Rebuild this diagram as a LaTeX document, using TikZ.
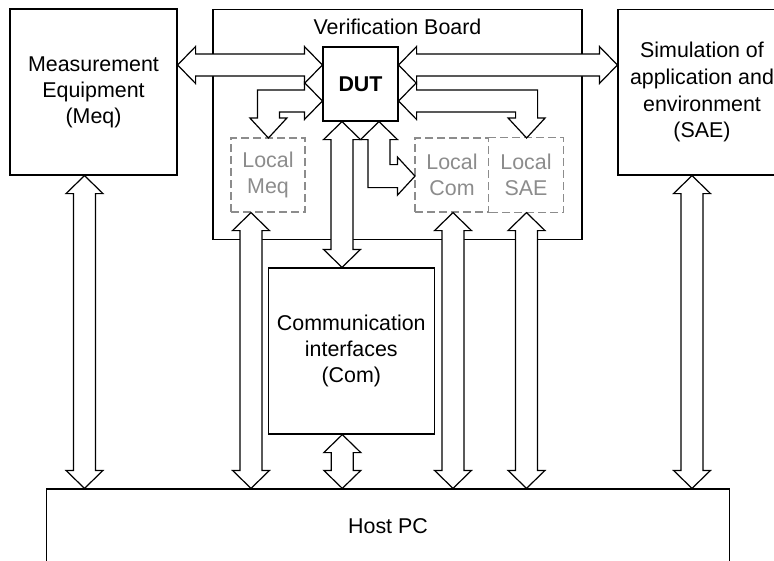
\documentclass[tikz,border=0pt]{standalone}
\usepackage{fontspec}
\setmainfont{Liberation Sans}
\usepackage{tikz}
\usetikzlibrary{calc, positioning}
\definecolor{mydark}{RGB}{0,0,0}
\definecolor{mygray}{RGB}{140,140,140}
\tikzset{
  box/.style={rectangle, draw=mydark, fill=white, line width=1.2pt,
    inner sep=0pt, align=center, font=\fontsize{21.4}{26}\selectfont},
  localbox/.style={box, draw=mygray, dash pattern=on 8pt off 4pt,
    text=mygray, minimum width=74pt, minimum height=74pt},
  dashline/.style={draw=mygray, line width=1.2pt, dash pattern=on 8pt off 4pt},
  blockarrow/.style={draw=mydark, fill=white, line width=1.2pt, line join=miter}
}
% double headed block arrow from #1 to #2
\newcommand{\dblarrow}[2]{%
  \draw[blockarrow] let \p1=(#1), \p2=(#2),
    \n1={atan2(\y2-\y1,\x2-\x1)}, \n2={veclen(\x2-\x1,\y2-\y1)} in
    [shift={(\p1)}, rotate=\n1]
    (0,0) -- (18,18.5) -- (18,11) -- (\n2-18,11) -- (\n2-18,18.5) -- (\n2,0)
    -- (\n2-18,-18.5) -- (\n2-18,-11) -- (18,-11) -- (18,-18.5) -- cycle;}

\begin{document}
\begin{tikzpicture}[x=1pt, y=1pt]
  \useasboundingbox (0,0) rectangle (774,-560);

  % verification board
  \node[box, minimum width=369pt, minimum height=230pt] (vb) at (397.5,-124.5) {};
  \node[font=\fontsize{21.4}{26}\selectfont, inner sep=0pt] (vblabel) at ([yshift=-17.7pt]vb.north) {Verification Board};

  % outer blocks
  \node[box, minimum width=167pt, minimum height=166pt] (meq) at (93.5,-92) {Measurement\\Equipment\\(Meq)};
  \node[box, minimum width=168pt, minimum height=165.5pt,
    font=\fontsize{21.4}{26.7}\selectfont] (sae) at (702,-92.25) {Simulation of\\application and\\environment\\(SAE)};
  \node[box, minimum width=166pt, minimum height=166pt] (com) at (351.3,-351) {Communication\\interfaces\\(Com)};
  \node[box, minimum width=682.6pt, minimum height=74pt] (host) at (388,-526) {Host PC};

  % DUT and local blocks
  \node[box, minimum width=75pt, minimum height=74pt,
    font=\fontsize{21.4}{26}\selectfont\bfseries] (dut) at (360.5,-84) {DUT};
  \node[localbox] (lmeq) at (268,-175) {Local\\Meq};
  \node[localbox] (lcom) at (452,-175) {Local\\Com};
  \node[localbox, draw=none] (lsae) at (526,-175) {Local\\SAE};
  \draw[dashline] (lsae.north west) -- (lsae.north east) -- (lsae.south east) -- (lsae.south west);

  % straight connectors
  \coordinate (dleft) at ([yshift=19pt]dut.west);
  \coordinate (dright) at ([yshift=19pt]dut.east);
  \dblarrow{dleft -| meq.east}{dleft}
  \dblarrow{dright}{dright -| sae.west}
  \coordinate (dcom) at ([xshift=-18.5pt]dut.south);
  \dblarrow{dcom}{dcom |- com.north}

  % bent connectors
  \draw[blockarrow] ([yshift=-17pt]dut.west) -- ++(-18,18.5) -- ++(0,-7.5)
    -- ++(-47,0) -- ++(0,-28) -- ++(-7.5,0) -- ++(18.5,-20) -- ++(18.5,20)
    -- ++(-7.5,0) -- ++(0,6) -- ++(25,0) -- ++(0,-7.5) -- cycle;
  \draw[blockarrow] ([yshift=-17pt]dut.east) -- ++(18,18.5) -- ++(0,-7.5)
    -- ++(121,0) -- ++(0,-28) -- ++(7.5,0) -- ++(-18.5,-20) -- ++(-18.5,20)
    -- ++(7.5,0) -- ++(0,6) -- ++(-99,0) -- ++(0,-7.5) -- cycle;
  \draw[blockarrow] ([xshift=18.5pt]dut.south) -- ++(18.5,-18) -- ++(-7.5,0)
    -- ++(0,-25) -- ++(7.5,0) -- ++(0,7.5) -- ++(17.5,-19) -- ++(-17.5,-19)
    -- ++(0,7.5) -- ++(-29.5,0) -- ++(0,48) -- ++(-7.5,0) -- cycle;

  % links to the host
  \coordinate (cmeq) at ([xshift=-9pt]meq.south);
  \coordinate (clmeq) at ([xshift=-17pt]lmeq.south);
  \coordinate (ccom) at ([xshift=-9pt]com.south);
  \coordinate (clcom) at ([xshift=1pt]lcom.south);
  \coordinate (clsae) at ([xshift=0.5pt]lsae.south);
  \coordinate (csae) at ([xshift=-10pt]sae.south);
  \dblarrow{cmeq}{cmeq |- host.north}
  \dblarrow{clmeq}{clmeq |- host.north}
  \dblarrow{ccom}{ccom |- host.north}
  \dblarrow{clcom}{clcom |- host.north}
  \dblarrow{clsae}{clsae |- host.north}
  \dblarrow{csae}{csae |- host.north}
\end{tikzpicture}
\end{document}
